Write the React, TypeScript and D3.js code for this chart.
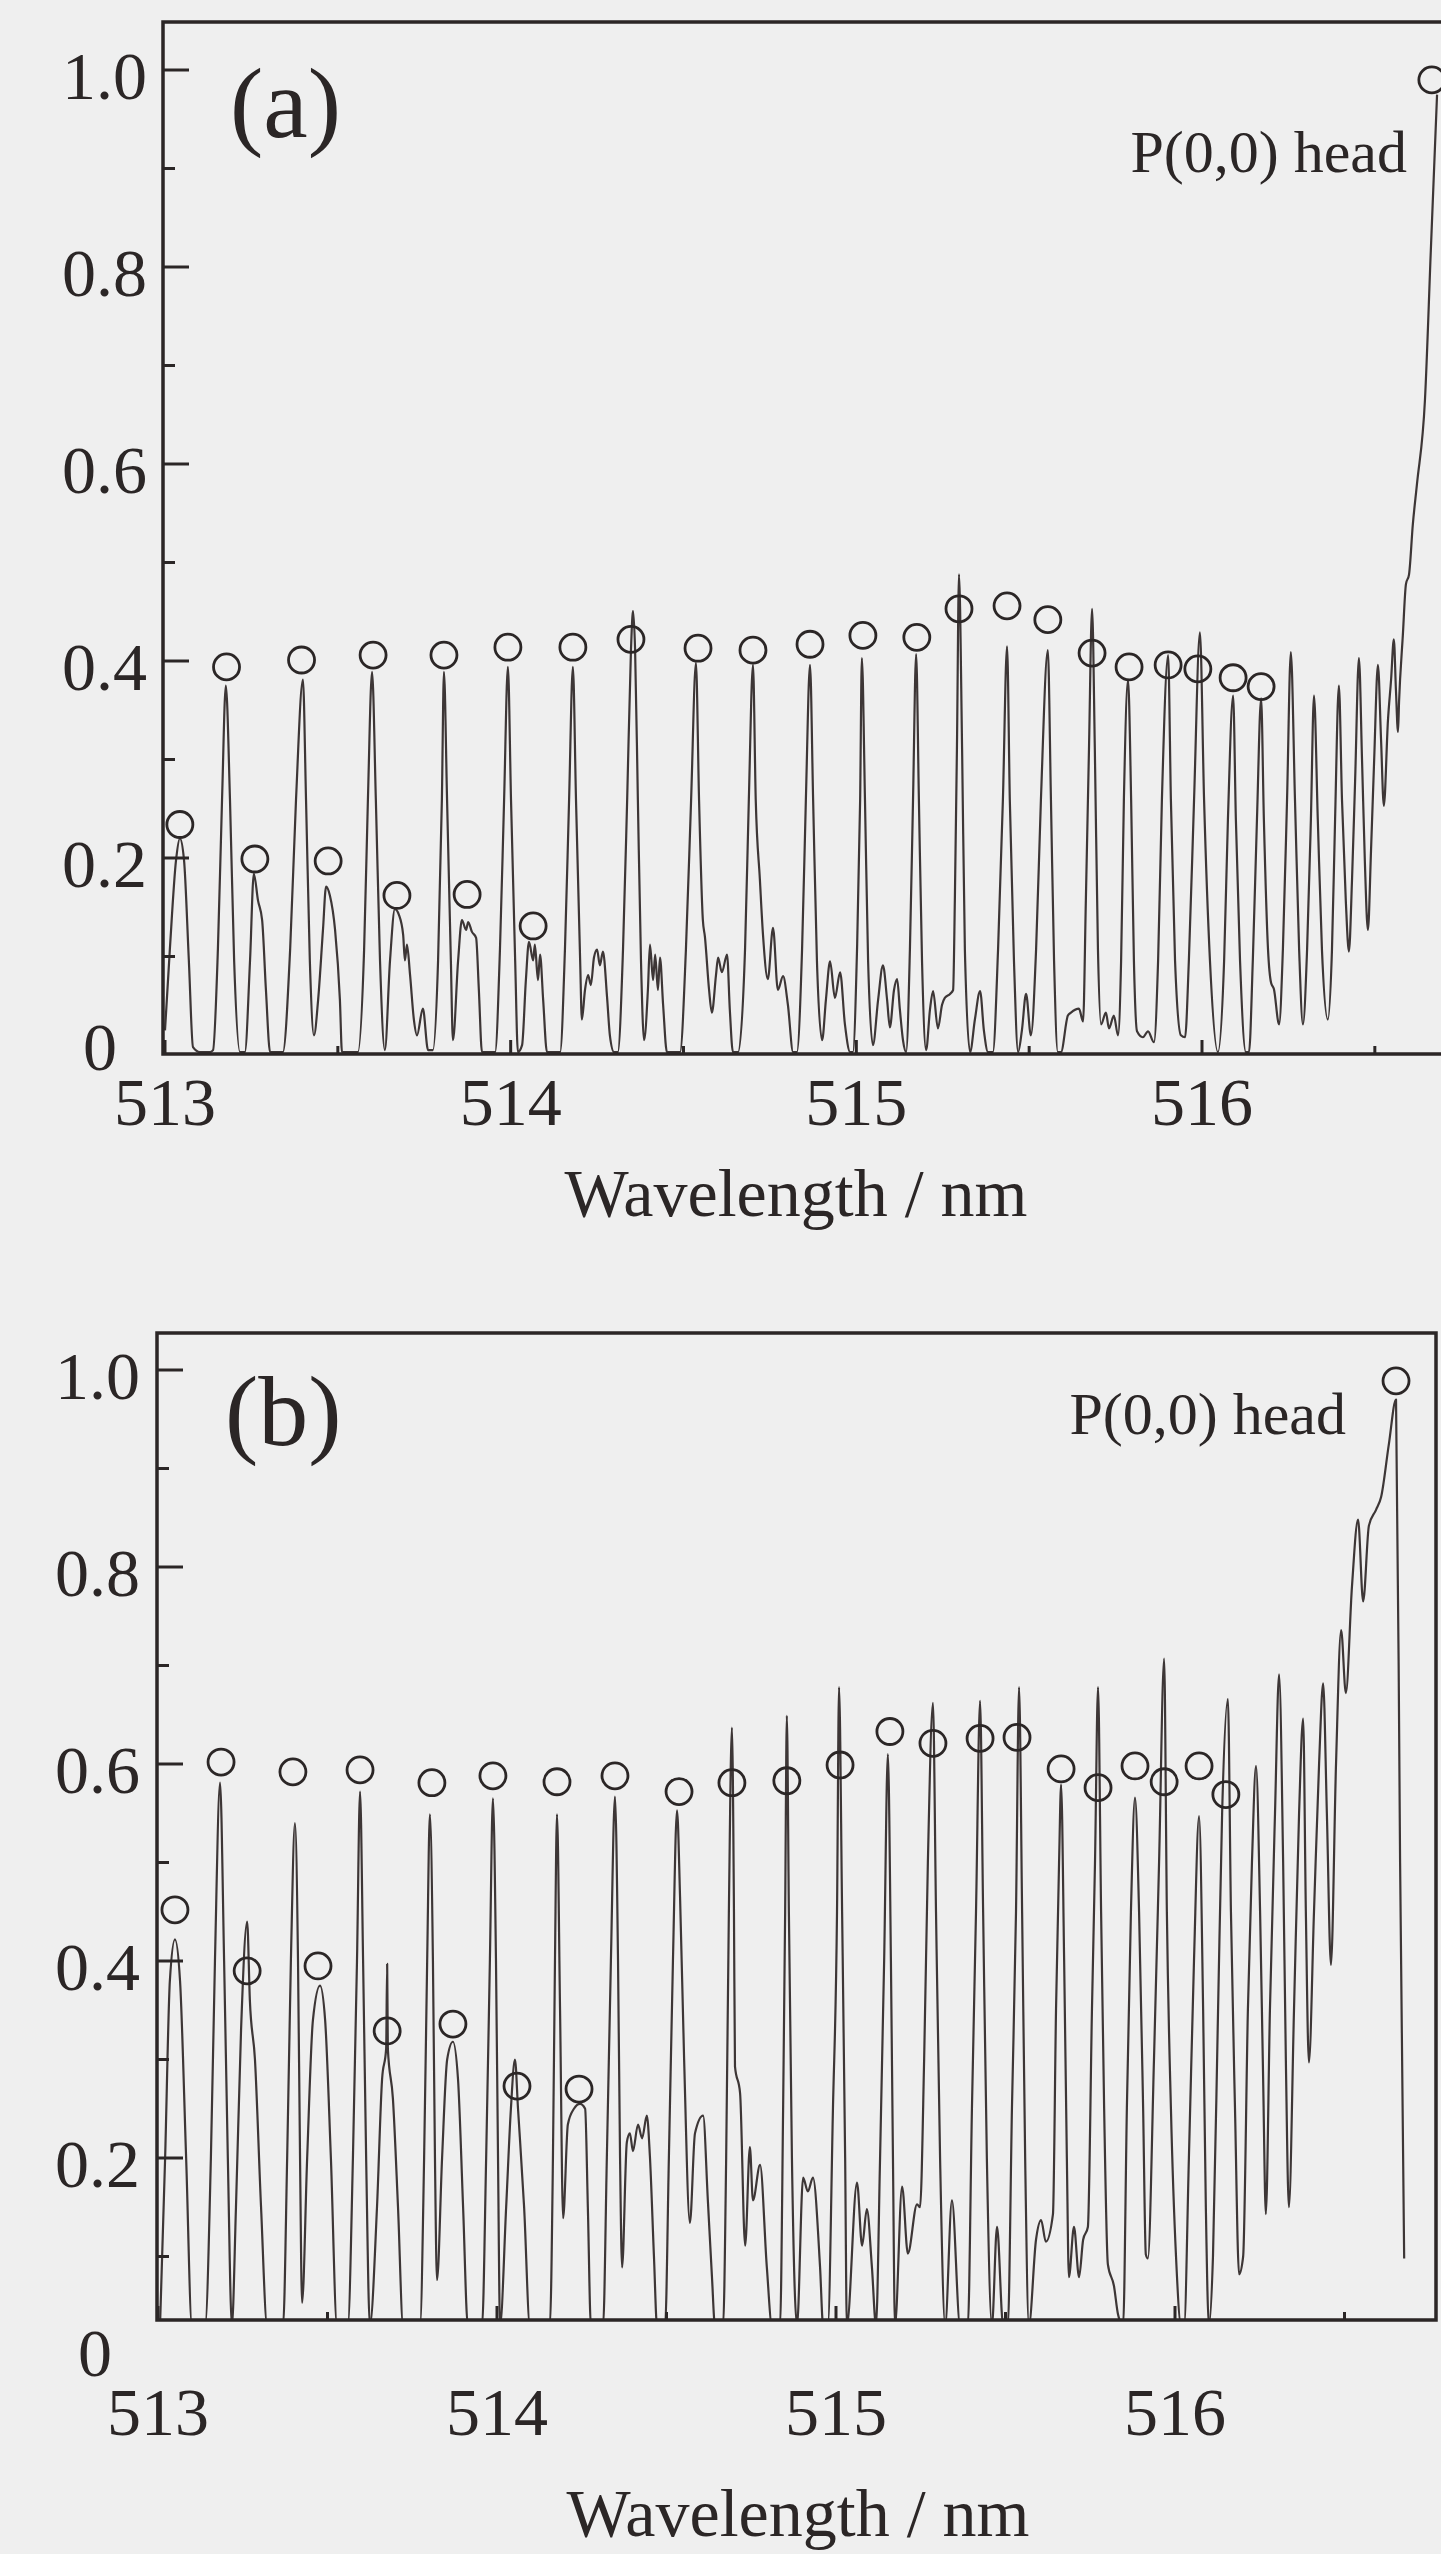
import React from 'react';
import * as d3 from 'd3';

const W = 1441;
const H = 2554;

// ---------- data ----------
const specA: [number, number][] = [
[513.000,0.025],[513.014,0.107],[513.032,0.198],[513.043,0.220],[513.055,0.198],[513.069,0.096],[513.081,0.008],[513.101,0.003],[513.130,0.003],
[513.139,0.005],[513.153,0.107],[513.165,0.259],[513.176,0.375],[513.188,0.259],[513.200,0.096],[513.217,0.003],[513.231,0.003],[513.246,0.096],
[513.257,0.184],[513.269,0.157],[513.281,0.137],[513.292,0.066],[513.304,0.003],[513.321,0.003],[513.341,0.003],[513.362,0.107],[513.379,0.259],
[513.399,0.381],[513.408,0.259],[513.419,0.096],[513.431,0.020],[513.443,0.056],[513.457,0.127],[513.466,0.171],[513.477,0.162],[513.492,0.127],
[513.506,0.056],[513.512,0.003],[513.535,0.003],[513.558,0.003],[513.576,0.107],[513.587,0.259],[513.599,0.389],[513.610,0.259],[513.622,0.096],
[513.636,0.005],[513.651,0.096],[513.665,0.148],[513.677,0.142],[513.689,0.122],[513.694,0.096],[513.700,0.112],[513.709,0.081],[513.720,0.036],
[513.729,0.020],[513.746,0.047],[513.761,0.005],[513.775,0.005],[513.790,0.096],[513.801,0.259],[513.807,0.389],[513.816,0.259],[513.827,0.096],
[513.833,0.015],[513.848,0.096],[513.859,0.137],[513.871,0.127],[513.877,0.135],[513.888,0.125],[513.900,0.119],[513.908,0.066],[513.917,0.003],
[513.940,0.003],[513.955,0.003],[513.969,0.107],[513.981,0.259],[513.992,0.394],[514.001,0.259],[514.013,0.096],[514.021,0.003],[514.033,0.010],
[514.044,0.076],[514.053,0.115],[514.065,0.096],[514.070,0.112],[514.079,0.076],[514.085,0.102],[514.094,0.056],[514.105,0.003],[514.128,0.003],
[514.143,0.003],[514.157,0.107],[514.169,0.259],[514.180,0.394],[514.189,0.259],[514.201,0.096],[514.206,0.036],[514.215,0.066],[514.224,0.081],
[514.232,0.071],[514.241,0.099],[514.250,0.107],[514.258,0.091],[514.267,0.105],[514.279,0.058],[514.287,0.020],[514.299,0.003],[514.310,0.003],
[514.325,0.107],[514.337,0.259],[514.348,0.411],[514.354,0.451],[514.360,0.411],[514.368,0.259],[514.377,0.096],[514.386,0.015],[514.397,0.066],
[514.403,0.112],[514.412,0.076],[514.418,0.102],[514.426,0.066],[514.432,0.099],[514.441,0.051],[514.452,0.003],[514.467,0.003],[514.490,0.003],
[514.507,0.107],[514.522,0.259],[514.536,0.398],[514.545,0.259],[514.556,0.137],[514.562,0.120],[514.574,0.066],[514.582,0.043],[514.594,0.081],
[514.600,0.099],[514.611,0.084],[514.626,0.102],[514.634,0.046],[514.643,0.003],[514.658,0.003],[514.678,0.107],[514.689,0.259],[514.701,0.396],
[514.709,0.259],[514.721,0.178],[514.730,0.122],[514.744,0.077],[514.759,0.129],[514.773,0.066],[514.788,0.080],[514.802,0.051],[514.817,0.003],
[514.828,0.003],[514.843,0.107],[514.854,0.259],[514.866,0.396],[514.875,0.259],[514.886,0.096],[514.901,0.015],[514.912,0.056],[514.924,0.095],
[514.938,0.058],[514.953,0.084],[514.967,0.031],[514.982,0.003],[514.990,0.003],[515.002,0.107],[515.011,0.259],[515.016,0.403],[515.025,0.259],
[515.034,0.096],[515.048,0.010],[515.063,0.056],[515.077,0.091],[515.089,0.056],[515.097,0.028],[515.109,0.066],[515.118,0.077],[515.126,0.046],
[515.135,0.015],[515.144,0.003],[515.155,0.107],[515.164,0.259],[515.173,0.407],[515.181,0.259],[515.190,0.096],[515.202,0.005],[515.213,0.046],
[515.222,0.065],[515.236,0.027],[515.248,0.051],[515.256,0.058],[515.271,0.062],[515.280,0.066],[515.285,0.157],[515.291,0.310],[515.297,0.488],
[515.306,0.310],[515.314,0.107],[515.329,0.003],[515.343,0.036],[515.358,0.065],[515.369,0.025],[515.381,0.003],[515.395,0.003],[515.410,0.107],
[515.424,0.259],[515.436,0.415],[515.444,0.259],[515.456,0.096],[515.468,0.003],[515.479,0.025],[515.491,0.062],[515.505,0.020],[515.520,0.107],
[515.534,0.259],[515.554,0.411],[515.563,0.259],[515.572,0.096],[515.583,0.003],[515.592,0.003],[515.612,0.040],[515.621,0.043],[515.644,0.047],
[515.656,0.034],[515.664,0.157],[515.673,0.310],[515.682,0.453],[515.690,0.310],[515.699,0.107],[515.708,0.031],[515.722,0.043],[515.731,0.027],
[515.745,0.040],[515.757,0.020],[515.766,0.096],[515.774,0.259],[515.786,0.381],[515.795,0.259],[515.803,0.096],[515.812,0.024],[515.829,0.018],
[515.844,0.024],[515.861,0.013],[515.873,0.096],[515.884,0.259],[515.902,0.406],[515.910,0.259],[515.922,0.096],[515.939,0.020],[515.951,0.018],
[515.962,0.096],[515.977,0.259],[515.994,0.429],[516.006,0.259],[516.023,0.096],[516.046,0.003],[516.064,0.096],[516.075,0.239],[516.090,0.365],
[516.098,0.239],[516.110,0.096],[516.127,0.003],[516.136,0.003],[516.147,0.096],[516.159,0.239],[516.171,0.362],[516.179,0.239],[516.191,0.107],
[516.200,0.073],[516.208,0.067],[516.223,0.031],[516.234,0.107],[516.246,0.259],[516.257,0.409],[516.269,0.259],[516.281,0.107],[516.292,0.031],
[516.304,0.107],[516.315,0.239],[516.324,0.365],[516.335,0.239],[516.347,0.107],[516.364,0.036],[516.376,0.107],[516.385,0.239],[516.396,0.375],
[516.405,0.259],[516.416,0.157],[516.425,0.105],[516.434,0.178],[516.443,0.279],[516.454,0.403],[516.463,0.299],[516.471,0.198],[516.480,0.127],
[516.489,0.208],[516.498,0.299],[516.509,0.396],[516.518,0.320],[516.526,0.253],[516.538,0.340],[516.547,0.381],[516.555,0.422],[516.561,0.371],
[516.567,0.328],[516.570,0.358],[516.581,0.426],[516.590,0.478],[516.599,0.488],[516.610,0.539],[516.622,0.580],[516.645,0.665],[516.662,0.817],
[516.680,0.975]
];

const peaksA: [number, number][] = [
[513.043,0.234],[513.178,0.394],[513.260,0.199],[513.395,0.401],[513.472,0.197],[513.602,0.406],[513.671,0.162],[513.807,0.406],
[513.874,0.163],[513.992,0.414],[514.065,0.131],[514.180,0.414],[514.348,0.422],[514.542,0.413],[514.701,0.411],[514.866,0.417],
[515.019,0.426],[515.175,0.424],[515.297,0.453],[515.436,0.456],[515.554,0.442],[515.682,0.408],[515.789,0.394],[515.902,0.396],
[515.988,0.392],[516.090,0.383],[516.171,0.374],[516.665,0.990]
];

const specB: [number, number][] = [
[513.006,0.03],[513.021,0.20],[513.035,0.38],[513.050,0.422],[513.065,0.38],[513.083,0.20],[513.100,0.03],[513.139,0.03],[513.156,0.20],
[513.168,0.40],[513.183,0.581],[513.195,0.40],[513.206,0.20],[513.218,0.03],[513.230,0.15],[513.245,0.33],[513.263,0.44],[513.271,0.36],
[513.286,0.30],[513.304,0.15],[513.322,0.03],[513.369,0.03],[513.381,0.20],[513.392,0.40],[513.404,0.540],[513.413,0.40],[513.419,0.20],
[513.425,0.053],[513.440,0.20],[513.457,0.34],[513.478,0.375],[513.493,0.34],[513.510,0.20],[513.528,0.03],[513.560,0.03],[513.575,0.20],
[513.587,0.40],[513.596,0.572],[513.605,0.40],[513.614,0.20],[513.625,0.03],[513.646,0.15],[513.661,0.28],[513.673,0.311],[513.676,0.397],
[513.678,0.311],[513.693,0.26],[513.708,0.15],[513.723,0.03],[513.773,0.03],[513.785,0.20],[513.794,0.40],[513.802,0.549],[513.811,0.40],
[513.817,0.20],[513.823,0.076],[513.838,0.20],[513.853,0.30],[513.870,0.318],[513.885,0.28],[513.900,0.15],[513.914,0.03],[513.956,0.03],
[513.968,0.20],[513.979,0.40],[513.988,0.565],[513.997,0.40],[514.003,0.20],[514.009,0.03],[514.027,0.15],[514.041,0.25],[514.053,0.30],
[514.062,0.25],[514.080,0.15],[514.097,0.03],[514.156,0.03],[514.165,0.20],[514.171,0.40],[514.177,0.549],[514.186,0.35],[514.195,0.139],
[514.209,0.234],[514.227,0.25],[514.245,0.255],[514.260,0.25],[514.268,0.15],[514.277,0.03],[514.313,0.03],[514.324,0.20],[514.336,0.40],
[514.348,0.567],[514.357,0.40],[514.363,0.20],[514.369,0.089],[514.383,0.216],[514.392,0.225],[514.401,0.207],[514.416,0.234],[514.428,0.220],
[514.442,0.243],[514.451,0.202],[514.463,0.10],[514.472,0.03],[514.496,0.03],[514.507,0.20],[514.519,0.40],[514.531,0.553],[514.540,0.465],
[514.552,0.30],[514.569,0.134],[514.584,0.225],[514.608,0.243],[514.622,0.157],[514.634,0.08],[514.643,0.03],[514.667,0.03],[514.676,0.20],
[514.684,0.45],[514.693,0.637],[514.699,0.45],[514.702,0.293],[514.717,0.266],[514.732,0.111],[514.746,0.211],[514.755,0.157],[514.776,0.193],
[514.796,0.089],[514.811,0.03],[514.835,0.03],[514.844,0.25],[514.850,0.45],[514.855,0.649],[514.861,0.45],[514.870,0.20],[514.885,0.03],
[514.903,0.180],[514.917,0.166],[514.932,0.180],[514.953,0.089],[514.962,0.03],[514.976,0.03],[514.991,0.25],[515.003,0.45],[515.009,0.678],
[515.018,0.45],[515.027,0.20],[515.032,0.03],[515.062,0.175],[515.077,0.111],[515.091,0.148],[515.106,0.089],[515.118,0.03],[515.130,0.20],
[515.142,0.40],[515.153,0.610],[515.162,0.40],[515.168,0.20],[515.174,0.03],[515.195,0.171],[515.212,0.103],[515.239,0.153],[515.248,0.15],
[515.260,0.30],[515.271,0.50],[515.286,0.662],[515.295,0.45],[515.307,0.20],[515.322,0.03],[515.342,0.157],[515.366,0.03],[515.389,0.03],
[515.401,0.25],[515.413,0.45],[515.425,0.664],[515.434,0.45],[515.445,0.20],[515.460,0.03],[515.475,0.130],[515.493,0.03],[515.507,0.03],
[515.519,0.25],[515.531,0.45],[515.540,0.678],[515.549,0.45],[515.558,0.20],[515.569,0.03],[515.590,0.117],[515.605,0.137],[515.619,0.115],
[515.640,0.143],[515.649,0.35],[515.658,0.50],[515.664,0.579],[515.673,0.40],[515.681,0.20],[515.687,0.079],[515.702,0.130],[515.717,0.079],
[515.729,0.117],[515.743,0.13],[515.755,0.35],[515.764,0.50],[515.773,0.678],[515.782,0.45],[515.791,0.25],[515.802,0.092],[515.820,0.07],
[515.832,0.041],[515.847,0.03],[515.858,0.25],[515.870,0.45],[515.882,0.566],[515.894,0.45],[515.906,0.25],[515.914,0.102],[515.920,0.098],
[515.938,0.30],[515.953,0.50],[515.968,0.707],[515.976,0.45],[515.988,0.25],[516.003,0.10],[516.018,0.03],[516.027,0.03],[516.041,0.20],
[516.056,0.40],[516.071,0.547],[516.083,0.35],[516.091,0.15],[516.100,0.03],[516.112,0.10],[516.127,0.35],[516.139,0.55],[516.156,0.666],
[516.165,0.45],[516.177,0.25],[516.189,0.082],[516.201,0.10],[516.215,0.35],[516.227,0.50],[516.239,0.598],[516.251,0.45],[516.260,0.28],
[516.268,0.143],[516.280,0.35],[516.295,0.55],[516.307,0.691],[516.319,0.50],[516.327,0.30],[516.336,0.150],[516.351,0.35],[516.366,0.55],
[516.378,0.646],[516.386,0.45],[516.395,0.297],[516.410,0.45],[516.425,0.60],[516.437,0.682],[516.448,0.55],[516.460,0.396],[516.475,0.60],
[516.490,0.736],[516.504,0.672],[516.522,0.78],[516.540,0.848],[516.555,0.765],[516.572,0.842],[516.593,0.858],[516.608,0.871],[516.631,0.925],
[516.652,0.970],[516.664,0.50],[516.676,0.098]
];

const peaksB: [number, number][] = [
[513.050,0.452],[513.186,0.602],[513.263,0.390],[513.398,0.592],[513.472,0.395],[513.596,0.594],[513.676,0.329],[513.808,0.581],
[513.870,0.336],[513.988,0.588],[514.059,0.273],[514.177,0.582],[514.242,0.270],[514.348,0.588],[514.537,0.572],[514.693,0.581],
[514.855,0.583],[515.012,0.599],[515.159,0.633],[515.286,0.621],[515.425,0.626],[515.534,0.627],[515.664,0.595],[515.773,0.576],
[515.882,0.598],[515.968,0.582],[516.071,0.598],[516.150,0.569],[516.652,0.989]
];

const yMajor = [0, 0.2, 0.4, 0.6, 0.8, 1.0];
const yMajorLabels = ['0', '0.2', '0.4', '0.6', '0.8', '1.0'];
const yMinor = [0.1, 0.3, 0.5, 0.7, 0.9];
const xMajor = [513, 514, 515, 516];
const xMinor = [513.5, 514.5, 515.5, 516.5];
const xTitle = 'Wavelength / nm';
const panelTags = ['(a)', '(b)'];
const headText = 'P(0,0) head';

// ---------- layout ----------
const INK = '#2b2626';
const LINE = '#3d3636';
const FONT = '"Liberation Serif", "Times New Roman", serif';

const layouts = [
  {
    spec: specA, peaks: peaksA, tag: panelTags[0],
    xr: [165, 1202], yr: [1055, 70],
    frame: { l: 163, r: 1443, t: 22, b: 1054 },
    yLabX: 147, zeroLab: [117, 1070], xLabY: 1125, titleX: 796, titleY: 1216,
    tagPos: [230, 137], headPos: [1407, 172],
  },
  {
    spec: specB, peaks: peaksB, tag: panelTags[1],
    xr: [158, 1175], yr: [2355, 1370],
    frame: { l: 157, r: 1436, t: 1333, b: 2320 },
    yLabX: 140, zeroLab: [112, 2376], xLabY: 2435, titleX: 798, titleY: 2536,
    tagPos: [225, 1445], headPos: [1346, 1434],
  },
];

function Panel({ cfg, idx }: { cfg: any; idx: number }) {
  const x = d3.scaleLinear().domain([513, 516]).range(cfg.xr);
  const y = d3.scaleLinear().domain([0, 1]).range(cfg.yr);
  const f = cfg.frame;
  const line = d3.line<[number, number]>().x(d => x(d[0])).y(d => y(d[1])).curve(d3.curveMonotoneX);
  const clipId = `clip-${idx}`;
  return (
    <g>
      <defs>
        <clipPath id={clipId}>
          <rect x={f.l} y={f.t} width={f.r - f.l} height={f.b - f.t} />
        </clipPath>
      </defs>
      <g clipPath={`url(#${clipId})`}>
        <path d={line(cfg.spec) || ''} fill="none" stroke={LINE} strokeWidth={2.2} strokeLinejoin="round" />
        {cfg.peaks.map((p: [number, number], i: number) => (
          <circle key={i} cx={x(p[0])} cy={y(p[1])} r={13} fill="none" stroke={INK} strokeWidth={2.8} />
        ))}
      </g>
      {/* frame */}
      <path d={`M${f.l},${f.b} L${f.l},${f.t} L${f.r},${f.t} L${f.r},${f.b} Z`} fill="none" stroke={INK} strokeWidth={3.5} />
      {/* y ticks */}
      {yMajor.filter(v => y(v) < f.b - 2).map((v, i) => (
        <line key={'ym' + i} x1={f.l} x2={f.l + 26} y1={y(v)} y2={y(v)} stroke={INK} strokeWidth={3} />
      ))}
      {yMinor.map((v, i) => (
        <line key={'yn' + i} x1={f.l} x2={f.l + 12} y1={y(v)} y2={y(v)} stroke={INK} strokeWidth={3} />
      ))}
      {yMajor.map((v, i) => (
        v === 0 ? (
          <text key={'yl' + i} x={cfg.zeroLab[0]} y={cfg.zeroLab[1]} textAnchor="end" fontSize={68} fontFamily={FONT} fill={INK}>{yMajorLabels[i]}</text>
        ) : (
          <text key={'yl' + i} x={cfg.yLabX} y={y(v) + 29} textAnchor="end" fontSize={68} fontFamily={FONT} fill={INK}>{yMajorLabels[i]}</text>
        )
      ))}
      {/* x ticks */}
      {xMajor.map((v, i) => (
        <line key={'xm' + i} x1={x(v)} x2={x(v)} y1={f.b} y2={f.b - 14} stroke={INK} strokeWidth={3} />
      ))}
      {xMinor.map((v, i) => (
        <line key={'xn' + i} x1={x(v)} x2={x(v)} y1={f.b} y2={f.b - 8} stroke={INK} strokeWidth={3} />
      ))}
      {xMajor.map((v, i) => (
        <text key={'xl' + i} x={x(v)} y={cfg.xLabY} textAnchor="middle" fontSize={68} fontFamily={FONT} fill={INK}>{String(v)}</text>
      ))}
      <text x={cfg.titleX} y={cfg.titleY} textAnchor="middle" fontSize={68} fontFamily={FONT} fill={INK}>{xTitle}</text>
      <text x={cfg.tagPos[0]} y={cfg.tagPos[1]} fontSize={100} fontFamily={FONT} fill={INK}>{cfg.tag}</text>
      <text x={cfg.headPos[0]} y={cfg.headPos[1]} textAnchor="end" fontSize={60} fontFamily={FONT} fill={INK}>{headText}</text>
    </g>
  );
}

export default function App() {
  return (
    <svg width={W} height={H} viewBox={`0 0 ${W} ${H}`} style={{ position: 'absolute', left: 0, top: 0, display: 'block' }}>
      <rect x={0} y={0} width={W} height={H} fill="#efefef" />
      {layouts.map((cfg, i) => <Panel key={i} cfg={cfg} idx={i} />)}
    </svg>
  );
}
